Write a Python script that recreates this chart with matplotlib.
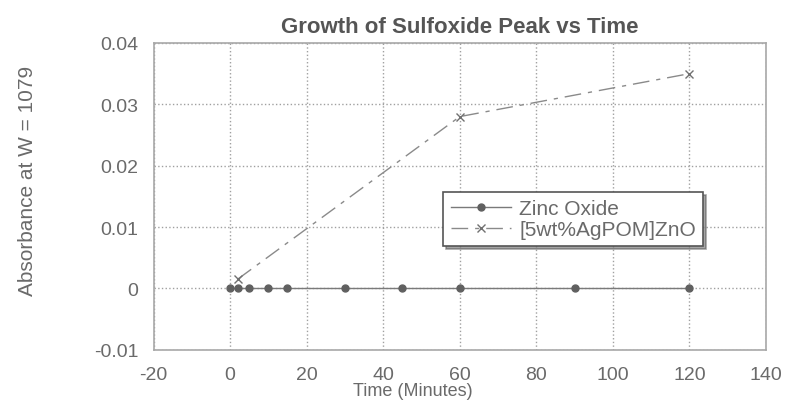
import matplotlib.pyplot as plt

# data
zno_time = [0, 2, 5, 10, 15, 30, 45, 60, 90, 120]
zno_abs = [0, 0, 0, 0, 0, 0, 0, 0, 0, 0]
agpom_time = [2, 60, 120]
agpom_abs = [0.0015, 0.028, 0.035]
xticks = [-20, 0, 20, 40, 60, 80, 100, 120, 140]
yticks = [-0.01, 0, 0.01, 0.02, 0.03, 0.04]
ytick_labels = ['-0.01', '0', '0.01', '0.02', '0.03', '0.04']

plt.rcParams['font.family'] = ['Liberation Sans', 'DejaVu Sans']
plt.rcParams['axes.unicode_minus'] = False
txt = '#6a6a6a'

fig = plt.figure(figsize=(7.86, 4.02), dpi=100)
ax = fig.add_axes([0.1953, 0.1276, 0.7793, 0.763])

ax.plot(zno_time, zno_abs, color='#7a7a7a', lw=1, marker='o', ms=5,
        mfc='#606060', mec='#606060', label='Zinc Oxide')
ax.plot(agpom_time, agpom_abs, color='#8a8a8a', lw=1, ls=(0, (12, 5, 3, 5)),
        marker='x', ms=6, mec='#707070', label='[5wt%AgPOM]ZnO')

ax.set_xlim(-20, 140)
ax.set_ylim(-0.01, 0.04)
ax.set_xticks(xticks)
ax.set_yticks(yticks)
ax.set_yticklabels(ytick_labels)
ax.grid(True, ls=':', color='#a0a0a0', lw=1)
ax.tick_params(colors=txt, labelsize=14, length=0)
ax.tick_params(axis='x', pad=12)
ax.tick_params(axis='y', pad=11)
for s in ax.spines.values():
    s.set_color('#a8a8a8')
    s.set_linewidth(1.2)

ax.set_title('Growth of Sulfoxide Peak vs Time', fontsize=16, fontweight='bold',
             color='#555555', pad=8)
ax.set_xlabel('Time (Minutes)', fontsize=13, color=txt, va='center')
ax.xaxis.set_label_coords(0.424, -0.132)
ax.set_ylabel('Absorbance at W = 1079', fontsize=15, color=txt)
ax.yaxis.set_label_coords(-0.19, 0.553)

leg = ax.legend(loc='upper left', bbox_to_anchor=(0.473, 0.515), fontsize=15,
                frameon=True, fancybox=False, shadow=True, borderpad=0.35,
                handlelength=2.9, handletextpad=0.4, labelspacing=0.1,
                borderaxespad=0)
leg.get_frame().set_edgecolor('#555555')
leg.get_frame().set_linewidth(1.2)
for t in leg.get_texts():
    t.set_color(txt)

fig.savefig('out.png', dpi=100)
